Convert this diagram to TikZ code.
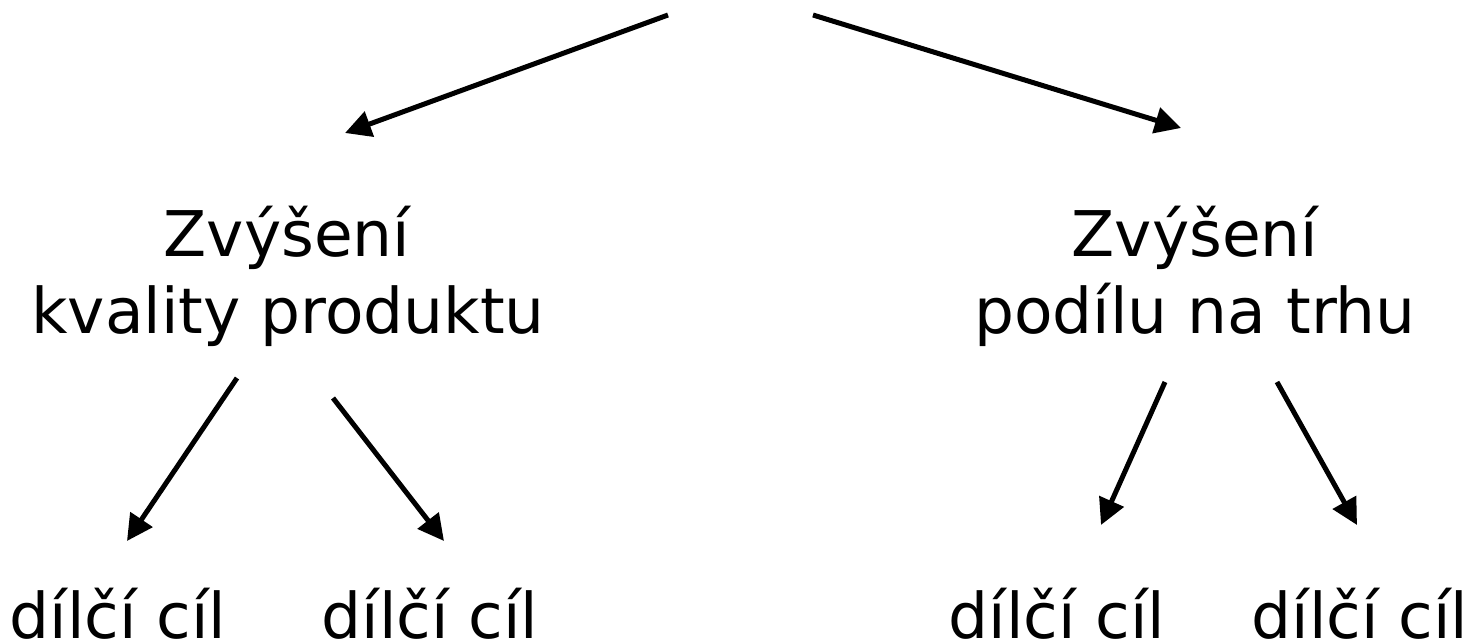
\documentclass[tikz,border=0pt]{standalone}
\usepackage{fontspec}
\setmainfont{DejaVu Sans}
\usetikzlibrary{arrows.meta}
\tikzset{
  lbl/.style={inner sep=0pt, font=\fontsize{63}{75}\selectfont},
  arr/.style={line width=5pt, -{Triangle[length=26pt,width=26pt]}}
}
\begin{document}
\begin{tikzpicture}[x=1pt,y=-1pt]
\useasboundingbox (0,0) rectangle (1470,642);
% text nodes
\node[lbl, anchor=base] (L1) at (287,256) {Zvýšení};
\node[lbl, anchor=base] (L2) at (288,333) {kvality produktu};
\node[lbl, anchor=base] (R1) at (1195,256) {Zvýšení};
\node[lbl, anchor=base] (R2) at (1195,333) {podílu na trhu};
\node[lbl, anchor=base] (D1) at (118,638) {dílčí cíl};
\node[lbl, anchor=base] (D2) at (430,638) {dílčí cíl};
\node[lbl, anchor=base] (D3) at (1057,638) {dílčí cíl};
\node[lbl, anchor=base] (D4) at (1360,638) {dílčí cíl};
% connector end points
\coordinate (t1) at (668,15);
\coordinate (t2) at (813,15);
\coordinate (e1) at (345,133);
\coordinate (e2) at (1181,128);
\coordinate (s3) at (237,378);
\coordinate (e3) at (127,541);
\coordinate (s4) at (333,398);
\coordinate (e4) at (444,541);
\coordinate (s5) at (1165,382);
\coordinate (e5) at (1101,525);
\coordinate (s6) at (1277,382);
\coordinate (e6) at (1357,525);
\draw[arr] (t1) -- (e1);
\draw[arr] (t2) -- (e2);
\draw[arr] (s3) -- (e3);
\draw[arr] (s4) -- (e4);
\draw[arr] (s5) -- (e5);
\draw[arr] (s6) -- (e6);
\end{tikzpicture}
\end{document}
